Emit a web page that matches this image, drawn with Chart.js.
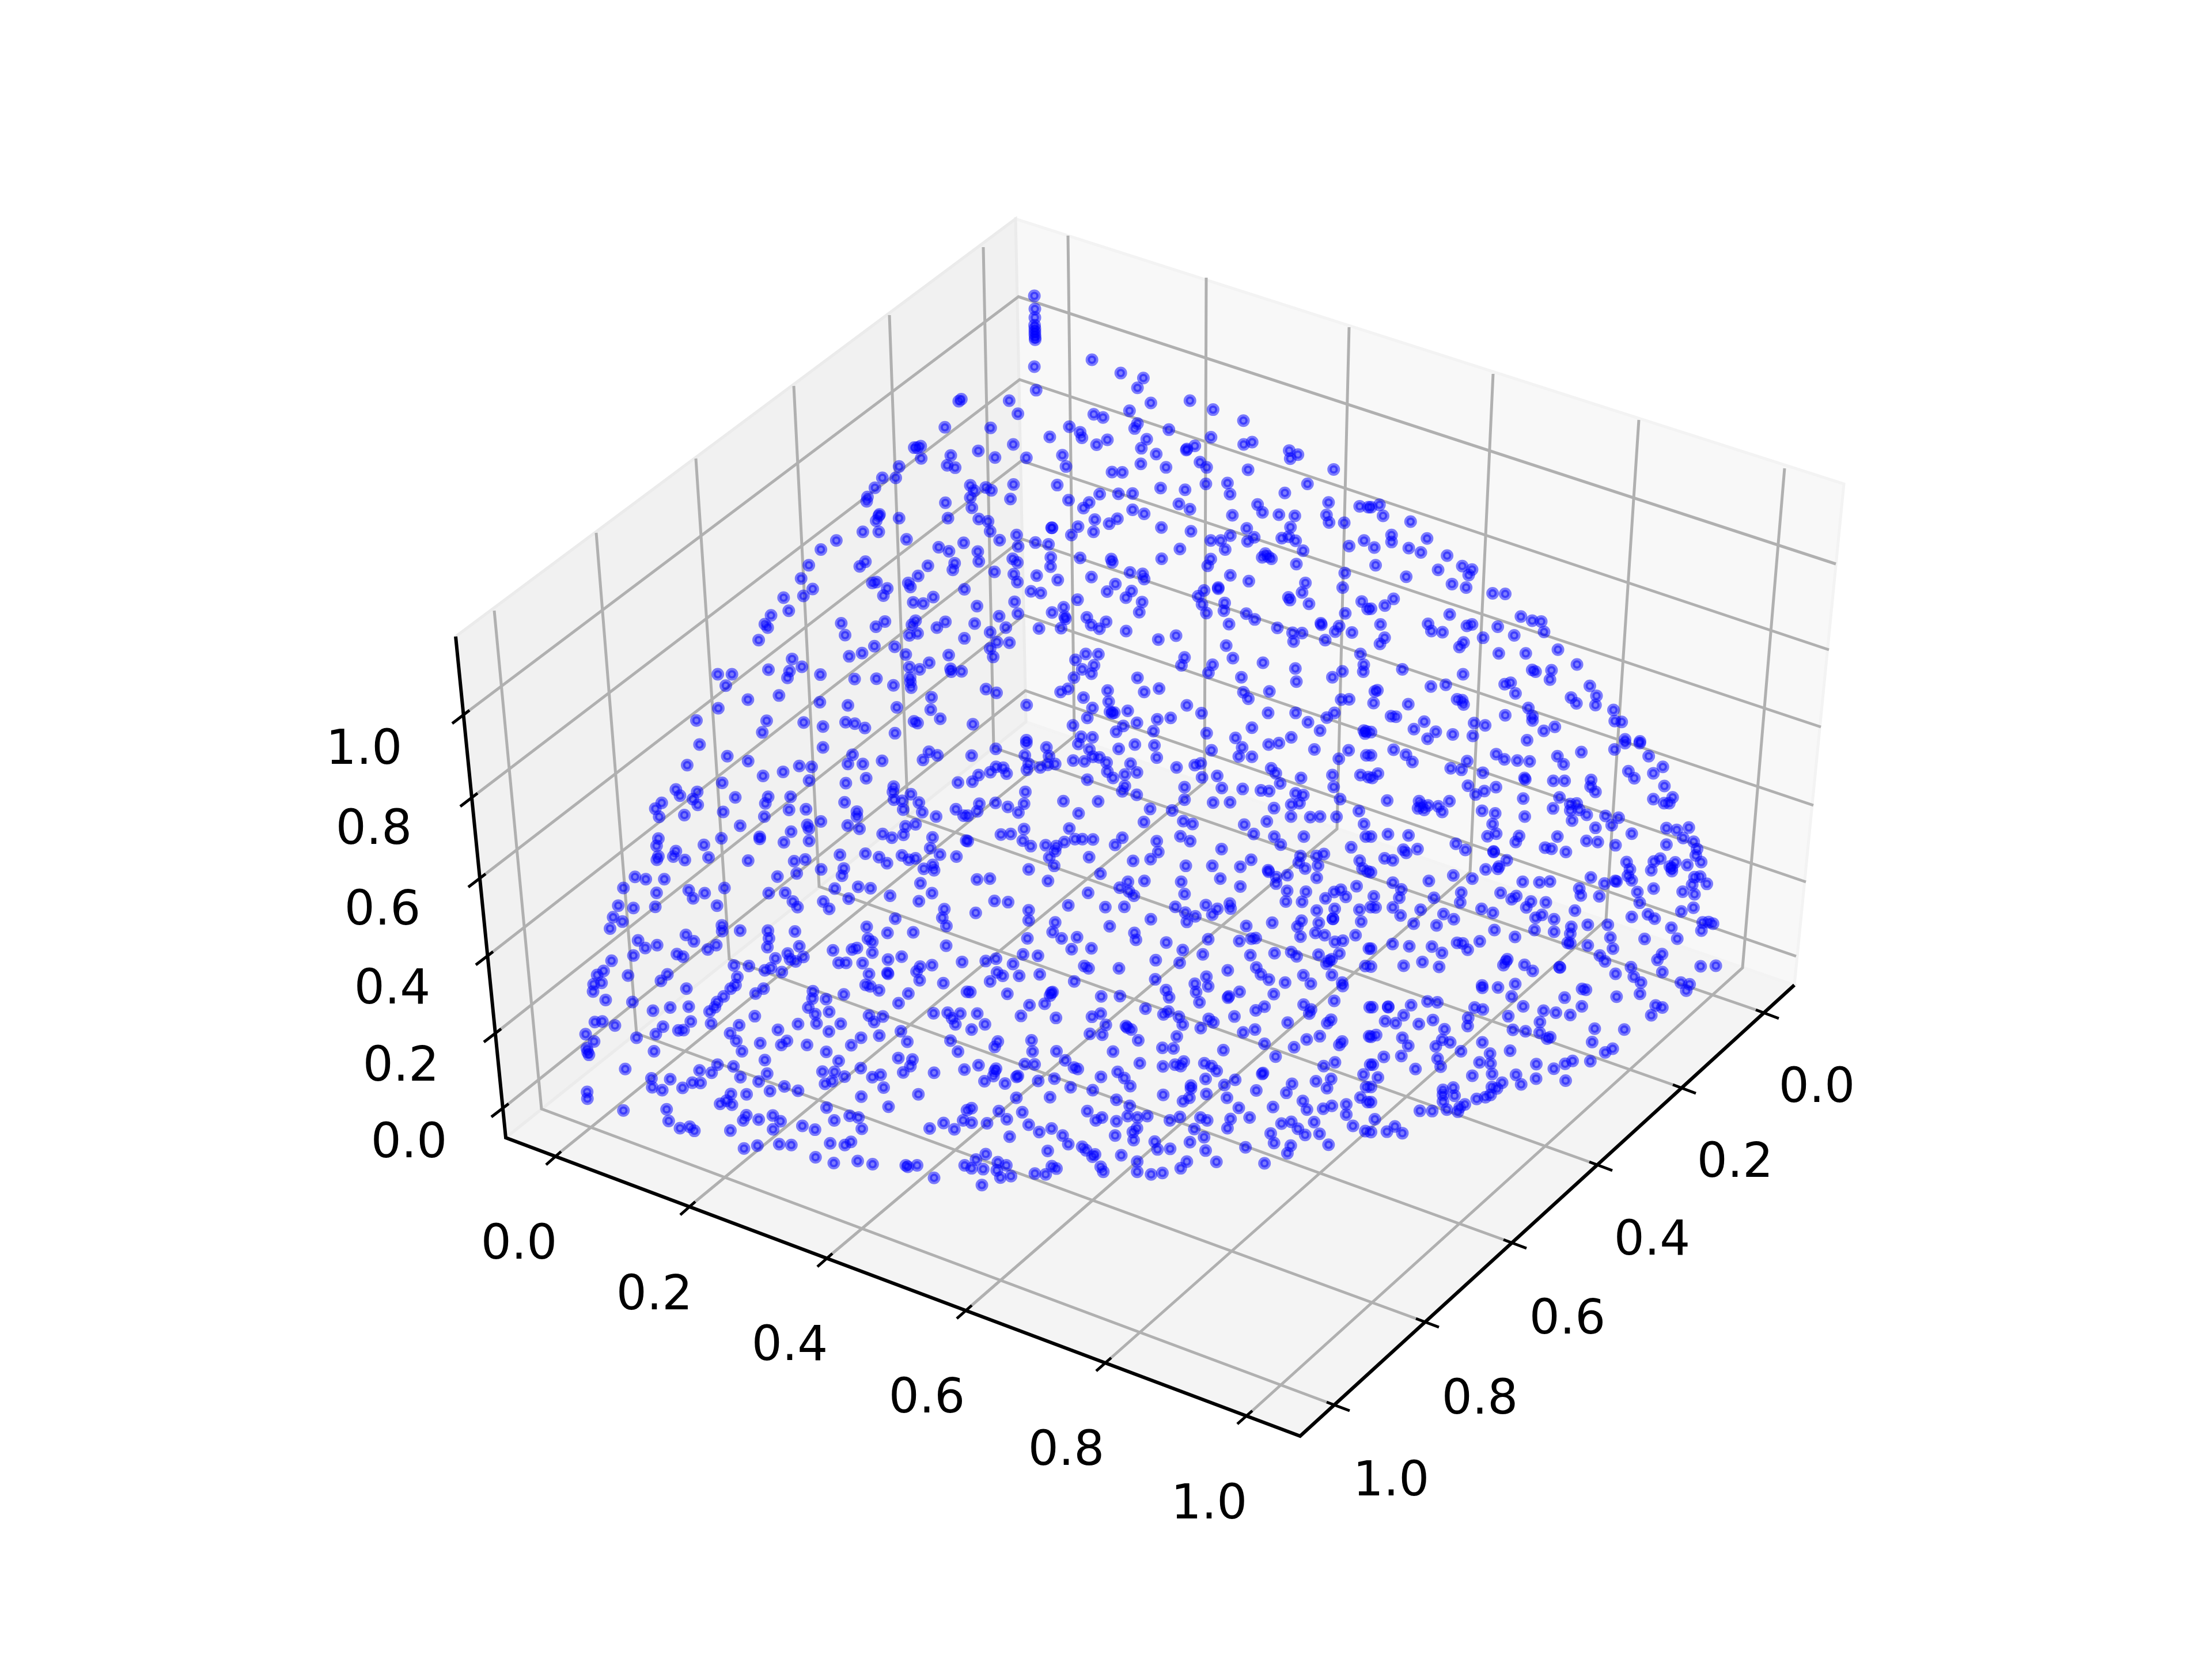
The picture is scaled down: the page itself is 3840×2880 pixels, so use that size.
<!DOCTYPE html>
<html>
<head>
<meta charset="utf-8">
<style>
    html, body { margin: 0; padding: 0; background: #fff; }
    canvas { display: block; }
</style>
<script src="https://cdn.jsdelivr.net/npm/chart.js@4/dist/chart.umd.min.js"></script>
</head>
<body>
<canvas id="scatter3d" width="3840" height="2880"></canvas>
<script>
// tick labels
const xTickLabels = ['0.0', '0.2', '0.4', '0.6', '0.8', '1.0']
const yTickLabels = ['0.0', '0.2', '0.4', '0.6', '0.8', '1.0']
const zTickLabels = ['0.0', '0.2', '0.4', '0.6', '0.8', '1.0']

// the cube as it looks in the picture plane
const cornerFrontLeft = [878, 1975]
const cornerFrontRight = [2257, 2493]
const cornerRight = [3115, 1710]
const cornerBack = [1781, 1253]
const cornerTopLeft = [791, 1105]
const cornerTopBack = [1763, 380]
const cornerTopRight = [3201, 840]

const xTicks = [[965, 2008], [1198, 2095], [1436, 2185], [1678, 2275], [1920, 2366], [2165, 2458]]
const xJoints = [[1865, 1278], [2091, 1358], [2321, 1439], [2552, 1514], [2788, 1597], [3025, 1680]]
const xTops = [[1854, 409], [2094, 482], [2342, 568], [2592, 649], [2845, 729], [3098, 813]]
const xLabelSpots = [[901, 2155], [1136, 2243], [1371, 2331], [1609, 2422], [1851, 2513], [2099, 2606]]

const yTicks = [[3062, 1759], [2918, 1889], [2773, 2023], [2624, 2158], [2472, 2295], [2317, 2440]]
const yJoints = [[1725, 1298], [1576, 1416], [1422, 1539], [1266, 1665], [1105, 1794], [940, 1925]]
const yTops = [[1707, 429], [1544, 547], [1378, 670], [1208, 796], [1035, 925], [858, 1060]]
const yLabelSpots = [[3154, 1883], [3012, 2013], [2868, 2148], [2721, 2285], [2569, 2424], [2415, 2566]]

const zTicks = [[873, 1924], [860, 1794], [846, 1660], [833, 1525], [819, 1385], [805, 1241]]
const zJoints = [[1780, 1199], [1778, 1068], [1775, 936], [1773, 800], [1770, 659], [1768, 515]]
const zEnds = [[3118, 1660], [3135, 1531], [3148, 1398], [3161, 1262], [3175, 1128], [3187, 979]]
const zLabelSpots = [[710, 1979], [696, 1846], [681, 1712], [664, 1575], [649, 1435], [632, 1296]]

// scatter dots read crop by crop, x,y pairs in crop units (each crop is 1568 units square)
const dotsNW = [1533,390,1543,383,1479,480,1360,550,1372,550,1385,545,1387,587,1502,577,1488,611,1519,619,1301,615,1236,654,1288,654,1207,688,1178,720,1175,735,1225,780,1222,785,1212,802,1222,840,1301,793,1160,840,1481,740,1491,793,1330,866,1057,870,997,901,950,955,920,1001,965,1037,929,1061,852,1067,872,1112,803,1128,779,1158,790,1170,755,1213,1170,943,1148,959,1197,1016,1213,1013,1255,1035,1240,1060,1337,1016,1345,1030,1375,992,1356,1083,1395,1087,1434,1065,1413,957,1455,893,1495,907,1552,878,1517,948,1510,971,1555,1038,1076,1155,1091,1196,1211,1167,1246,1149,1365,1146,1351,1160,1341,1197,1373,1190,1448,1170,1481,1150,1555,1207,1205,1234,1157,1258,1107,1269,1284,1236,1327,1263,1494,1265,1418,1291,1341,1306,1381,1314,1501,1312,1504,1322,1544,1321,885,1278,923,1305,875,1320,867,1343,793,1315,995,1332,1128,1347,1213,1346,1279,1369,1344,1342,1345,1358,1348,1377,596,1331,651,1331,627,1370,713,1418,834,1404,993,1427,1102,1438,1292,1445,1427,1410,1424,1453,598,1448,513,1490,786,1491,769,1531,930,1497,1005,1511,1093,1496,1129,1501,1168,1516,1285,1534,1359,1493,1373,1499,1461,1484]

const dotsN = [259,27,261,72,261,102,260,128,261,140,261,150,261,160,262,170,262,178,259,271,266,352,483,247,595,293,683,310,660,344,712,396,864,388,954,419,1072,457,161,388,195,433,490,435,526,446,629,423,660,467,649,484,782,488,89,482,395,478,437,497,444,516,319,513,501,540,543,523,696,521,675,552,733,572,852,555,850,558,883,544,946,514,1073,539,1106,531,1250,560,1254,588,1284,574,1090,626,1423,625,41,561,106,584,177,539,228,585,368,576,382,615,673,606,771,618,903,600,929,618,561,634,601,635,926,675,1010,672,1020,710,1321,675,1233,706,10,680,25,698,70,687,92,697,178,677,348,679,166,727,10,722,16,757,392,731,472,739,450,758,513,710,586,709,641,708,750,689,845,695,821,744,864,762,641,764,686,778,1127,746,1146,773,1210,781,1272,785,1403,739,1395,782,1405,808,1464,809,1524,752,1558,755,1029,783,43,796,79,804,87,838,328,826,326,826,429,822,403,851,494,798,489,840,550,812,582,795,753,825,868,838,1085,828,1255,824,124,869,190,851,263,877,314,883,196,890,945,870,984,870,1021,853,1001,901,1088,873,1114,859,1221,862,1248,857,1275,871,1304,905,1541,870,1483,889,825,899,39,908,43,942,175,933,193,946,323,928,322,960,437,930,558,934,562,945,754,933,945,934,933,957,1145,928,1157,915,1168,925,1181,933,1278,951,104,978,179,986,193,1013,268,991,350,1006,481,996,631,980,680,985,686,1003,1021,990,1093,1010,1466,982,1458,1032,574,1020,542,1046,637,1044,615,1067,974,1032,974,1036,919,1042,896,1062,1313,1016,1300,1049,1247,1066,1253,1075,1327,1088,246,1045,284,1051,427,1074,678,1082,182,1081,36,1096,373,1100,328,1118,195,1122,999,1085,911,1090,996,1112,928,1120,1532,1080,1555,1106,1468,1121,667,1117,122,1131,463,1135,377,1133,380,1140,27,1156,148,1170,480,1161,538,1150,512,1174,277,1173,363,1172,1083,1122,1116,1142,1016,1158,1204,1171,1373,1155,1375,1160,1444,1165,1429,1184,1494,1187,1263,1188,1300,1189,616,1182,87,1186,114,1220,162,1222,87,1242,99,1271,741,1211,810,1198,1390,1213,1267,1218,1005,1232,459,1261,508,1262,419,1281,843,1273,1031,1275,1527,1261,1148,1291,831,1300,952,1298,491,1300,1540,1298,445,1314,481,1329,936,1326,1274,1311,1538,1322,1457,1321,660,1343,1064,1341,413,1342,1418,1341,1278,1356,71,1382,112,1395,361,1392,390,1381,544,1387,686,1392,744,1380,1072,1393,1091,1415,1173,1390,450,1411,548,1425,1452,1418,1483,1417,229,1437,852,1438,485,1447,1168,1464,909,1465,1275,1464,1426,1464,1396,1480,553,1460,562,1465,570,1463,622,1457,465,1481,737,1486,789,1481,20,1503,409,1507,658,1498,605,1509,1323,1496,1105,1515,1370,1525,577,1529,722,1527,929,1534,1540,1525,1545,1535,1550,1528,228,1558,441,1546,485,1548,1041,1550,1258,1548]

const dotsNE = [33,747,0,755,47,785,154,805,80,851,80,875,218,863,13,894,147,896,194,911,296,922,18,955,137,995,261,971,355,958,393,970,380,989,315,1020,370,1032,473,1052,522,1054,88,1071,54,1094,0,1105,306,1125,583,1132,627,1146,662,1149,673,1185,37,1159,222,1157,235,1182,278,1186,373,1164,393,1159,493,1167,436,1205,557,1197,53,1205,35,1226,360,1221,344,1237,727,1246,497,1259,602,1259,801,1297,122,1314,627,1316,640,1322,702,1317,358,1331,696,1349,291,1367,233,1373,520,1365,543,1360,562,1397,851,1371,25,1386,15,1390,335,1417,355,1420,360,1435,877,1405,778,1411,799,1431,873,1437,10,1430,145,1434,612,1447,943,1454,628,1475,628,1490,522,1472,78,1475,97,1477,948,1492,975,1495,207,1494,401,1499,444,1507,715,1512,167,1520,672,1526,252,1529,318,1538,396,1543,220,1553,988,1555,1046,1562,607,1558,0,1530]

const dotsSW = [525,5,633,45,714,62,477,76,1005,15,1120,40,1102,72,1160,72,1235,61,1394,58,1417,30,1450,42,913,79,961,82,850,99,772,113,951,129,1094,138,1173,121,1530,136,613,137,433,160,449,181,516,168,499,193,518,213,664,187,792,185,781,208,879,185,378,206,353,226,368,254,617,237,466,248,873,230,939,228,1089,204,1137,236,1137,253,1280,150,1277,168,1281,195,1313,199,1347,176,1378,205,1317,229,1391,238,1522,228,1445,253,1552,250,777,253,683,285,997,270,944,282,950,295,1101,284,1147,295,1326,287,1365,280,881,305,951,337,1237,313,1273,326,1318,316,1431,325,365,329,358,354,610,328,759,323,759,330,853,342,542,351,1562,336,1422,362,1071,385,1170,381,1223,393,1254,414,1312,387,1339,402,1365,397,1460,384,1524,391,433,372,423,391,365,390,359,402,468,403,560,394,714,405,893,407,936,401,1432,420,1397,433,1437,438,998,435,1086,432,903,449,1079,457,828,460,274,461,316,469,388,469,1384,483,229,499,358,516,483,507,545,517,500,535,622,499,1051,501,1142,495,1190,500,794,517,858,516,1266,526,1429,517,1105,536,888,546,906,565,1006,546,1029,571,1378,545,209,560,268,568,353,564,593,560,189,600,225,615,1477,572,1469,602,1286,605,177,639,612,628,613,648,1485,630,683,646,791,646,896,649,1175,633,1256,654,1356,652,795,673,472,661,286,680,503,683,1180,674,1197,685,314,706,360,696,590,696,789,703,913,700,1484,698,557,711,1137,706,1118,711,1044,714,1197,722,437,727,461,736,868,725,268,732,929,737,877,745,899,752,820,742,1311,736,1258,746,1066,757,1095,757,1159,758,183,750,1546,754,1383,770,1429,765,659,766,717,768,779,783,803,775,845,789,152,785,127,799,247,801,400,797,1369,787,672,806,1184,796,1258,795,1256,792,375,819,144,826,113,831,1381,817,1473,827,665,834,646,846,474,846,774,846,1171,833,1189,838,1223,852,111,856,743,863,966,855,1086,866,1337,863,1565,857,619,873,964,880,1017,882,160,885,264,892,593,892,1299,896,585,910,564,925,411,911,483,908,344,922,948,911,1029,926,975,934,740,941,1184,939,1238,942,1435,931,1490,929,1539,932,1507,948,118,961,147,959,196,973,491,959,1204,961,570,966,908,968,980,966,1074,967,1520,969,383,977,679,972,443,990,463,989,830,988,1028,994,1308,993,82,1003,280,1015,355,1003,644,1000,1224,1008,1153,1015,115,1028,668,1026,761,1034,865,1026,843,1040,943,1040,1115,1041,1333,1029,1501,1025,1530,1063,87,1052,90,1065,95,1074,348,1062,690,1062,1018,1064,1298,1085,1353,1090,779,1092,1066,1095,595,1108,657,1114,525,1128,236,1123,1345,1113,572,1136,788,1139,1003,1132,1050,1133,1152,1120,1317,1135,1437,1136,1555,1125,338,1155,411,1158,684,1151,1089,1149,1197,1151,1229,1143,341,1186,380,1196,459,1188,497,1170,529,1171,755,1166,855,1183,1041,1165,1013,1174,1241,1187,88,1202,799,1199,908,1198,89,1225,647,1209,708,1210,1376,1210,1154,1218,605,1243,630,1232,651,1246,1019,1256,1260,1253,229,1266,397,1262,810,1283,707,1282,695,1300,755,1297,1109,1284,1143,1290,1049,1300,405,1302,840,1303,1550,1300,1565,1265,1474,1309,925,1319,974,1332,1156,1329,1420,1328,1516,1331,449,1327,487,1322,505,1336,645,1335,811,1331,1114,1374,1033,1379,1090,1385,698,1397,750,1387,835,1382,882,1385,976,1427,1047,1447,1140,1440,1198,1451,1327,1455,1335,1460,1371,1455,1556,1455,1437,1498]

const dotsS = [15,43,109,20,222,42,306,15,228,0,316,45,410,60,454,63,473,22,487,47,512,49,430,3,587,20,650,5,726,8,735,50,540,67,633,71,948,25,1054,46,1067,15,1105,47,1170,5,1210,0,1348,22,1481,25,1443,54,1550,42,340,72,311,75,237,72,282,84,230,92,138,85,110,82,88,100,151,105,42,110,18,133,543,98,611,108,658,101,565,120,465,126,812,84,883,76,906,70,911,118,970,113,1180,87,1198,104,1296,120,1418,110,1527,110,1558,117,1215,139,843,152,988,155,1069,158,1140,163,1172,165,1423,151,611,148,601,166,224,168,657,178,1275,173,1305,179,1448,193,843,195,372,200,507,201,45,209,108,206,156,220,219,209,37,235,197,239,954,205,1020,204,1191,224,1258,212,1290,207,709,227,795,232,431,242,1521,234,1257,253,1332,255,1370,253,1434,254,0,250,1163,270,685,272,838,269,874,279,1075,281,1541,279,395,294,219,296,129,315,167,313,1112,313,1307,322,827,321,1192,322,1548,322,601,326,0,338,214,336,245,355,303,352,344,355,417,331,446,331,487,332,376,341,340,372,865,338,735,338,573,351,1217,350,987,365,741,375,1491,359,317,394,472,393,1294,389,1356,389,1385,382,1287,412,1524,405,711,400,643,406,1102,402,336,423,848,423,951,423,1060,426,1362,422,1312,432,1535,432,1555,442,237,435,1168,438,1170,443,516,450,1243,455,1200,462,1199,484,36,470,86,467,312,475,623,478,687,475,830,478,982,467,1357,464,591,498,1060,494,1512,493,627,511,646,526,468,516,843,520,1242,509,1315,512,1425,513,1451,505,1470,530,1391,535,104,544,157,548,1019,553,1237,546,1300,547,391,559,535,565,609,564,807,564,926,558,1022,570,971,571,237,576,1427,571,1357,577,1523,574,1567,565,31,585,846,584,885,597,951,591,1420,605,1420,606,712,607,237,611,340,618,1298,612,852,616,1530,615,1184,619,1083,630,552,631,1365,620,1282,632,330,651,648,654,1352,654,1388,662,1294,667,654,678,365,673,425,669,1508,662,232,673,935,676,1120,672,1103,674,1056,682,1428,685,1459,681,772,687,481,707,404,710,836,713,914,728,1099,731,1193,724,1258,720,1279,735,1364,729,1445,725,1560,708,215,728,273,733,110,743,70,751,731,748,824,757,1405,750,1395,760,1415,745,176,761,453,768,470,776,588,776,1011,783,1122,773,1546,768,114,790,136,802,200,802,280,797,1140,797,1305,800,1416,799,928,805,1171,815,87,821,414,821,729,814,883,829,1234,825,1334,829,1456,825,1458,837,935,838,771,851,888,858,154,864,10,858,1057,857,1190,865,519,873,592,872,330,858,320,870,325,860,783,876,1015,873,1012,877,901,893,299,898,240,903,1425,888,1306,901,1154,908,691,915,1335,918,1328,932,1563,910,780,925,761,935,37,932,517,932,483,943,1120,921,207,940,343,947,821,943,1037,942,937,950,955,962,1413,953,1398,965,1244,963,67,969,537,971,836,970,615,975,620,980,636,987,15,987,906,982,1117,987,475,1002,523,1005,1071,997,813,1011,1369,1010,1561,1010,1318,1021,248,1024,663,1024,117,1028,105,1047,1456,1028,1445,1040,1154,1036,1269,1048,757,1050,800,1052,252,1063,345,1062,565,1063,994,1058,1197,1080,379,1093,669,1103,840,1097,1428,1100,42,1110,222,1106,260,1107,806,1108,828,1113,759,1114,920,1103,948,1113,968,1130,1384,1113,1565,1108,110,1122,105,1130,100,1147,413,1118,428,1123,583,1133,609,1154,1148,1137,1145,1140,518,1150,1539,1142,195,1147,190,1150,65,1165,925,1157,1040,1160,1413,1157,337,1156,274,1164,145,1173,632,1182,1354,1165,1261,1174,998,1178,868,1180,868,1190,400,1186,1397,1189,1549,1185,1122,1197,486,1196,928,1209,760,1212,1239,1205,862,1222,320,1220,189,1222,1008,1222,578,1229,837,1234,1527,1221,1303,1233,1555,1237,630,1250,1472,1245,1187,1254,1416,1250,1054,1257,1382,1260,1319,1263,15,1258,121,1268,465,1268,212,1272,1472,1280,622,1285,698,1285,660,1290,825,1288,905,1290,1096,1290,152,1296,522,1290,498,1300,931,1300,1022,1295,786,1300,578,1303,1258,1305,75,1310,15,1308,237,1315,1220,1311,1347,1306,1498,1319,326,1328,658,1327,1284,1329,1010,1327,881,1330,642,1340,278,1340,1546,1337,1178,1345,1312,1350,1368,1346,573,1352,919,1358,163,1356,369,1352,645,1368,727,1373,864,1375,1191,1378,1403,1384,391,1382,1256,1387,445,1391,1080,1393,738,1400,787,1398,460,1403,925,1404,311,1405,1243,1413,70,1416,597,1420,495,1417,485,1425,32,1435,117,1444,659,1442,852,1442,967,1443,1154,1448,150,1455,517,1460,15,1465,60,1468,327,1458,345,1466,828,1465,113,1472,527,1477,659,1477,261,1483,303,1486,757,1481,713,1486,127,1497,168,1492,55,1523]

const dotsSE = [88,23,136,40,161,65,0,42,374,62,487,38,519,56,569,60,617,63,725,45,749,73,818,31,947,22,1045,0,988,0,1080,45,310,87,352,92,435,102,27,105,5,120,597,120,600,125,709,130,753,130,856,127,1001,97,1024,121,1098,104,1135,82,854,150,873,168,377,147,486,152,441,165,407,177,1141,148,63,198,187,200,305,200,183,225,197,215,207,230,222,215,262,218,277,237,592,191,733,187,1173,187,1098,193,1140,207,1160,207,775,210,800,208,775,232,810,230,708,225,432,233,483,242,839,247,598,253,912,251,963,257,782,267,473,279,936,283,873,292,1149,293,1189,299,1236,291,66,314,146,318,487,312,453,321,576,320,1014,312,725,322,1214,327,563,341,838,337,882,341,330,347,1255,340,1149,350,951,352,0,322,181,365,126,367,137,378,1268,365,677,360,702,364,367,368,477,373,477,375,758,375,1263,387,53,397,85,404,1125,398,528,404,994,410,1284,410,1100,408,1183,411,498,425,493,433,1230,420,446,435,1007,435,1162,425,1170,430,1170,441,1090,438,999,457,320,456,0,445,855,463,394,467,1258,462,1280,460,85,481,225,475,590,478,655,480,696,477,1014,473,955,477,950,475,908,484,1306,485,1249,488,118,504,810,501,1099,501,504,516,1036,513,1212,512,351,515,816,525,888,528,1258,521,11,528,110,533,245,533,565,527,547,538,622,546,347,549,680,549,1045,550,18,566,85,566,430,571,604,566,1254,567,193,574,793,577,474,585,1207,580,115,594,282,589,665,592,1077,590,640,602,1014,599,1103,605,712,607,322,607,1290,618,1313,617,1330,622,166,622,255,628,843,626,921,626,1168,636,779,633,636,644,480,644,1285,646,712,650,775,657,560,668,931,670,1064,675,1191,674,423,683,335,688,357,690,765,688,775,690,84,692,149,700,237,701,843,697,376,712,941,708,0,708,276,723,1132,727,890,732,530,745,525,752,515,765,1114,747,910,752,200,754,127,767,265,771,597,764,0,770,1282,769,1341,767,733,772,735,773,629,785,1011,772,1133,789,951,795,1022,805,1050,825,1205,825,1239,831,561,830,432,835,433,843,494,842,1226,853,821,847,836,850,1046,864,547,873,753,877,955,874,220,890,258,893,67,910,67,908,156,903,5,910,592,907,403,911,435,918,1107,904,1133,911,820,907,671,922,719,929,775,937,127,938,1090,938,534,941,378,947,55,958,241,954,96,965,657,961,186,968,376,975,870,984,985,987,552,988,601,993,286,986,656,998,697,1013,685,1018,20,1006,0,1012,122,1015,277,1022,308,1031,145,1043,433,1031,860,1030,252,1045,940,1053,911,1066,541,1060,350,1062,463,1070,50,1081,118,1078,259,1087,784,1095,853,1096,422,1100,465,1104,643,1106,755,1105,7,1108,271,1115,173,1123,711,1122,394,1146,471,1140,564,1143,27,1152,642,1156,757,1163,510,1170,584,1176,490,1190,470,1185,320,1187,280,1195,280,1212,325,1215,465,1212,445,1220,411,1226,0,1185,280,1235,0,1237,365,1245,345,1255,295,1263,190,1267,238,1268,338,1270,15,1296,93,1321,62,1339,122,1344,0,1340]

// where each crop sits in the picture
const crops = [
    { dots: dotsNW, left: 980, top: 500 },
    { dots: dotsN, left: 1680, top: 500 },
    { dots: dotsNE, left: 2380, top: 500 },
    { dots: dotsSW, left: 980, top: 1290 },
    { dots: dotsS, left: 1680, top: 1290 },
    { dots: dotsSE, left: 2380, top: 1290 }
]

let scatterPoints = []
for (let crop of crops) {
    for (let i = 0; i < crop.dots.length; i += 2) {
        scatterPoints.push({
            x: crop.left + crop.dots[i] * 700 / 1568,
            y: crop.top + crop.dots[i + 1] * 790 / 1568
        })
    }
}

function toPoints(list) {
    return list.map(p => ({ x: p[0], y: p[1] }))
}

function lineSet(list, color, width, order) {
    return {
        data: toPoints(list),
        showLine: true,
        fill: false,
        borderColor: color,
        borderWidth: width,
        borderCapStyle: 'butt',
        borderJoinStyle: 'miter',
        tension: 0,
        pointRadius: 0,
        order: order
    }
}

function paneSet(list, fillColor, edgeColor) {
    return {
        data: toPoints(list.concat([list[0]])),
        showLine: true,
        fill: 'shape',
        backgroundColor: fillColor,
        borderColor: edgeColor,
        borderWidth: 5,
        tension: 0,
        pointRadius: 0,
        order: 5
    }
}

let datasets = []

// panes
datasets.push(paneSet([cornerFrontLeft, cornerBack, cornerTopBack, cornerTopLeft], '#f1f1f1', '#ebebeb'))
datasets.push(paneSet([cornerBack, cornerRight, cornerTopRight, cornerTopBack], '#f8f8f8', '#f3f3f3'))
datasets.push(paneSet([cornerFrontLeft, cornerFrontRight, cornerRight, cornerBack], '#f4f4f4', '#ededed'))

// grid and ticks
const gridColor = '#b0b0b0'
for (let i = 0; i < 6; i++) {
    let xIn = [xTicks[i][0] + 9, xTicks[i][1] - 9]
    let xOut = [xTicks[i][0] - 17, xTicks[i][1] + 14]
    datasets.push(lineSet([xIn, xJoints[i], xTops[i]], gridColor, 5, 3))
    datasets.push(lineSet([xIn, xOut], '#000', 5, 2))

    let yIn = [yTicks[i][0] - 14, yTicks[i][1] - 6]
    let yOut = [yTicks[i][0] + 26, yTicks[i][1] + 9]
    datasets.push(lineSet([yIn, yJoints[i], yTops[i]], gridColor, 5, 3))
    datasets.push(lineSet([yIn, yOut], '#000', 5, 2))

    let zIn = [zTicks[i][0] + 10, zTicks[i][1] - 8]
    let zOut = [zTicks[i][0] - 20, zTicks[i][1] + 15]
    datasets.push(lineSet([zIn, zJoints[i], zEnds[i]], gridColor, 5, 3))
    datasets.push(lineSet([zIn, zOut], '#000', 5, 2))
}

// black axis lines
datasets.push(lineSet([cornerTopLeft, cornerFrontLeft, cornerFrontRight, cornerRight], '#000', 6, 2))

// the dots
datasets.push({
    data: scatterPoints,
    backgroundColor: 'rgba(0, 0, 255, 0.5)',
    borderColor: 'rgba(0, 0, 255, 0.5)',
    borderWidth: 7.6,
    pointRadius: 7.2,
    order: 0
})

// tick labels through the same scales
const tickLabelPlugin = {
    id: 'tickLabels',
    afterDatasetsDraw(chart) {
        let ctx = chart.ctx
        let sx = chart.scales.x
        let sy = chart.scales.y
        ctx.save()
        ctx.font = '83.3px "DejaVu Sans"'
        ctx.fillStyle = '#000'
        ctx.textAlign = 'center'
        ctx.textBaseline = 'alphabetic'
        let groups = [[xTickLabels, xLabelSpots], [yTickLabels, yLabelSpots], [zTickLabels, zLabelSpots]]
        for (let group of groups) {
            group[0].forEach((label, i) => {
                ctx.fillText(label, sx.getPixelForValue(group[1][i][0]), sy.getPixelForValue(group[1][i][1]) + 30)
            })
        }
        ctx.restore()
    }
}

new Chart(document.querySelector('#scatter3d'), {
    type: 'scatter',
    data: { datasets: datasets },
    options: {
        responsive: false,
        animation: false,
        devicePixelRatio: 1,
        layout: { padding: 0, autoPadding: false },
        scales: {
            x: { type: 'linear', min: 0, max: 3840, display: false },
            y: { type: 'linear', min: 0, max: 2880, reverse: true, display: false }
        },
        plugins: {
            legend: { display: false },
            tooltip: { enabled: false }
        }
    },
    plugins: [tickLabelPlugin]
})
</script>
</body>
</html>
